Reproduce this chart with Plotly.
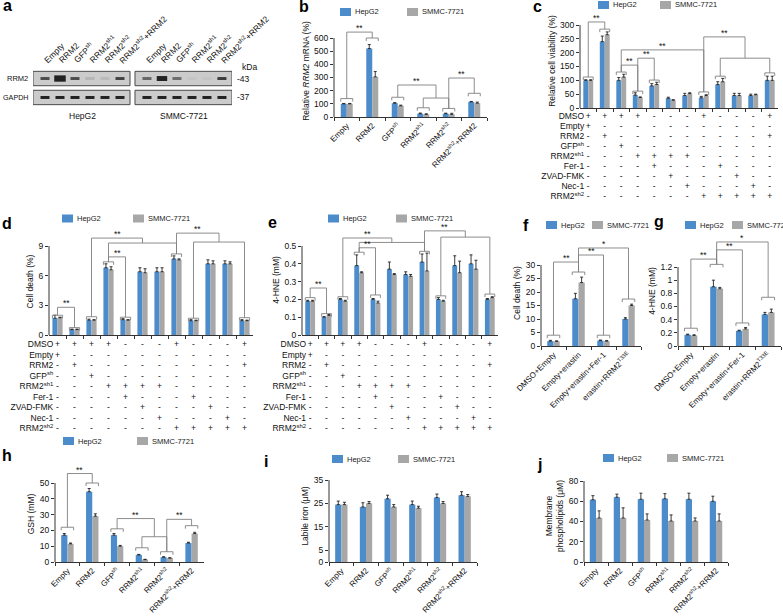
import plotly.graph_objects as go

W, H = 783, 616
FONT = 'Liberation Sans, Arial, sans-serif'
BLUE = '#4D8CCB'
GREY = '#A7A7A7'
LINEC = '#333333'
BRC = '#808080'

# ---------------- DATA ----------------
series_names = ['HepG2', 'SMMC-7721']

# (a) western blot
lane_labels = ['Empty', 'RRM2', 'GFP<sup>sh</sup>', 'RRM2<sup>sh1</sup>', 'RRM2<sup>sh2</sup>',
               'RRM2<sup>sh2</sup>+RRM2']
rrm2_band_hep = [0.75, 2.4, 0.75, 0.12, 0.10, 0.8]
rrm2_band_smmc = [0.6, 1.8, 0.55, 0.04, 0.04, 0.85]
gapdh_band_hep = [1.0, 1.0, 1.0, 1.0, 1.0, 1.0]
gapdh_band_smmc = [1.0, 1.0, 1.0, 1.0, 1.0, 1.0]

groups6 = ['Empty', 'RRM2', 'GFP<sup>sh</sup>', 'RRM2<sup>sh1</sup>', 'RRM2<sup>sh2</sup>',
           'RRM2<sup>sh2</sup>+RRM2']

# (b) relative RRM2 mRNA
b_hep = [100, 520, 105, 25, 25, 115]
b_hep_err = [3, 30, 4, 5, 4, 3]
b_smmc = [100, 305, 85, 20, 20, 105]
b_smmc_err = [3, 40, 5, 4, 8, 8]

# treatment table for c, d, e
treat_rows = ['DMSO', 'Empty', 'RRM2', 'GFP<sup>sh</sup>', 'RRM2<sup>sh1</sup>', 'Fer-1',
              'ZVAD-FMK', 'Nec-1', 'RRM2<sup>sh2</sup>']
treat_table = ['++++---+---+',
               '+-----------',
               '-+---------+',
               '--+---------',
               '---++++-----',
               '----+---+---',
               '-----+---+--',
               '------+---+-',
               '-------+++++']

# (c) relative cell viability
c_hep = [100, 240, 100, 47, 80, 35, 45, 37, 85, 45, 45, 100]
c_hep_err = [2, 20, 10, 8, 8, 4, 8, 5, 10, 8, 5, 15]
c_smmc = [100, 265, 112, 38, 85, 28, 52, 45, 95, 45, 48, 100]
c_smmc_err = [2, 10, 10, 2, 8, 2, 3, 3, 12, 8, 2, 15]

# (d) cell death
d_hep = [1.7, 0.55, 1.5, 6.8, 1.55, 6.4, 6.4, 7.7, 1.45, 7.2, 7.2, 1.45]
d_hep_err = [0.3, 0.05, 0.1, 0.4, 0.1, 0.4, 0.4, 0.3, 0.1, 0.4, 0.3, 0.1]
d_smmc = [1.75, 0.55, 1.5, 6.6, 1.5, 6.3, 6.4, 7.6, 1.45, 7.2, 7.2, 1.45]
d_smmc_err = [0.05, 0.05, 0.05, 0.3, 0.05, 0.4, 0.4, 0.1, 0.05, 0.3, 0.2, 0.05]

# (e) 4-HNE
e_hep = [0.19, 0.10, 0.20, 0.39, 0.20, 0.37, 0.34, 0.41, 0.20, 0.39, 0.40, 0.20]
e_hep_err = [0.005, 0.003, 0.005, 0.06, 0.005, 0.04, 0.015, 0.045, 0.01, 0.055, 0.05, 0.005]
e_smmc = [0.19, 0.11, 0.19, 0.35, 0.18, 0.34, 0.33, 0.36, 0.19, 0.35, 0.37, 0.21]
e_smmc_err = [0.005, 0.005, 0.005, 0.005, 0.01, 0.005, 0.01, 0.1, 0.005, 0.065, 0.05, 0.005]

# (f), (g)
groups4 = ['DMSO+Empty', 'Empty+erastin', 'Empty+erastin+Fer-1', 'erastin+RRM2<sup>T33E</sup>']
f_hep = [1.8, 17.5, 2.0, 10.0]
f_hep_err = [0.3, 2.0, 0.2, 0.5]
f_smmc = [1.7, 23.5, 1.8, 15.0]
f_smmc_err = [0.2, 2.0, 0.2, 0.5]
g_hep = [0.17, 0.90, 0.23, 0.48]
g_hep_err = [0.01, 0.10, 0.01, 0.03]
g_smmc = [0.16, 0.87, 0.26, 0.51]
g_smmc_err = [0.01, 0.02, 0.02, 0.05]

# (h) GSH
h_hep = [17, 44.5, 17, 4.5, 3, 12]
h_hep_err = [1, 2, 1, 0.3, 0.3, 0.5]
h_smmc = [11.5, 29, 10, 1.5, 2.5, 18]
h_smmc_err = [0.5, 1.5, 0.5, 0.2, 0.2, 0.8]

# (i) labile iron
i_hep = [24.5, 23.5, 27, 24.5, 27.5, 28.5]
i_hep_err = [1.5, 1.8, 1.5, 1.5, 1.5, 1.5]
i_smmc = [24.5, 25, 23.5, 23, 25, 28]
i_smmc_err = [1, 0.8, 1, 0.8, 0.8, 0.8]

# (j) membrane phospholipids
j_hep = [61.5, 64, 62, 62.5, 62, 60]
j_hep_err = [4, 3, 6, 5, 6, 5]
j_smmc = [43.5, 43.5, 41.5, 40.5, 40.5, 40.5]
j_smmc_err = [7, 10, 6, 6, 3, 7]

# ---------------- FIGURE ----------------
fig = go.Figure()
layout = dict(width=W, height=H, margin=dict(l=0, r=0, t=0, b=0, pad=0, autoexpand=False),
              paper_bgcolor='white', plot_bgcolor='rgba(0,0,0,0)',
              font=dict(family=FONT, size=8.5, color='#111111'),
              barmode='overlay', showlegend=False, hovermode=False)
shapes = []
annotations = []

# ---- panel a: blot ----
hep_x = list(range(6))
smmc_x = [6.8 + i for i in range(6)]
layout['xaxis'] = dict(domain=[33 / W, 232 / W], range=[-0.8, 12.47], visible=False,
                       fixedrange=True, anchor='y')
layout['yaxis'] = dict(domain=[1 - 106 / H, 1 - 70 / H], range=[-0.45, 1.45], visible=False,
                       fixedrange=True, anchor='x')
for xs in (hep_x, smmc_x):
    for r in (0, 1):
        shapes.append(dict(type='rect', xref='x', yref='y', x0=xs[0] - 0.8, x1=xs[-1] + 0.67,
                           y0=r - 0.38, y1=r + 0.38, fillcolor='#CBCBCB',
                           line=dict(color='#4A4A4A', width=1), layer='below'))
for xs, bands_r, bands_g in ((hep_x, rrm2_band_hep, gapdh_band_hep),
                             (smmc_x, rrm2_band_smmc, gapdh_band_smmc)):
    for row, bands in ((1, bands_r), (0, bands_g)):
        for p, inten in zip(xs, bands):
            half = 0.3 + 0.06 * (max(1, inten) - 1)
            fig.add_trace(go.Scatter(
                x=[p - half, p + half], y=[row, row], mode='lines', xaxis='x', yaxis='y',
                line=dict(color='rgba(20,20,20,%.3f)' % (0.92 * min(1, inten)),
                          width=3.0 * max(1, inten) ** 0.85),
                showlegend=False, hoverinfo='skip'))
    for p, lab in zip(xs, lane_labels):
        annotations.append(dict(text=lab, x=p - 0.4, y=1.45, xref='x', yref='y', xanchor='left',
                                yanchor='bottom', textangle=-45, yshift=2, showarrow=False,
                                font=dict(size=8.5)))
annotations += [
    dict(text='RRM2', x=-0.8, y=1, xref='x', yref='y', xanchor='right', xshift=-3, showarrow=False,
         font=dict(size=7.5)),
    dict(text='GAPDH', x=-0.8, y=0, xref='x', yref='y', xanchor='right', xshift=-2, showarrow=False,
         font=dict(size=7.2)),
    dict(text='kDa', x=12.47, y=1.45, xref='x', yref='y', xanchor='left', yanchor='middle',
         xshift=8, yshift=3, showarrow=False, font=dict(size=8.5)),
    dict(text='-43', x=12.47, y=1, xref='x', yref='y', xanchor='left', xshift=3, showarrow=False,
         font=dict(size=8.5)),
    dict(text='-37', x=12.47, y=0, xref='x', yref='y', xanchor='left', xshift=3, showarrow=False,
         font=dict(size=8.5)),
    dict(text='HepG2', x=sum(hep_x) / 6, y=-0.45, xref='x', yref='y', yanchor='top', yshift=-3,
         showarrow=False, font=dict(size=8.5)),
    dict(text='SMMC-7721', x=sum(smmc_x) / 6, y=-0.45, xref='x', yref='y', yanchor='top',
         yshift=-3, showarrow=False, font=dict(size=8.5)),
]


def legend_row(bl, cy, spacing):
    """Series key: coloured box + name for each series (paper coordinates)."""
    for j, (name, col) in enumerate(zip(series_names, (BLUE, GREY))):
        x0 = bl + j * spacing
        shapes.append(dict(type='rect', xref='paper', yref='paper', x0=x0 / W, x1=(x0 + 11) / W,
                           y0=1 - (cy + 4) / H, y1=1 - (cy - 4) / H, fillcolor=col,
                           line=dict(width=0)))
        annotations.append(dict(text=name, x=(x0 + 13) / W, y=1 - cy / H, xref='paper',
                                yref='paper', xanchor='left', yanchor='middle', showarrow=False,
                                font=dict(size=7.5, color='#222222')))


# ---- generic bar panel ----
def bar_panel(k, cats, hep, hep_err, smmc, smmc_err, xpx, zero_px, tick_px, tickvals, ticktext,
              top_px, title, bw, leg, categorical=True):
    xr, yr = 'x%d' % k, 'y%d' % k
    tickmax = tickvals[-1]
    ppu = (zero_px - tick_px) / tickmax
    ymax = (zero_px - top_px) / ppu
    n = len(cats)
    xs = cats if categorical else list(range(n))
    for name, vals, errs, col, off in ((series_names[0], hep, hep_err, BLUE, -bw),
                                       (series_names[1], smmc, smmc_err, GREY, 0)):
        fig.add_trace(go.Bar(
            x=xs, y=vals, name=name, width=bw, offset=off, xaxis=xr, yaxis=yr,
            marker=dict(color=col, line=dict(width=0)),
            error_y=dict(type='data', array=errs, arrayminus=[0] * n, symmetric=False,
                         color='#222222', thickness=0.9, width=1.5),
            hoverinfo='skip', showlegend=False))
    xa = dict(domain=[xpx[0] / W, xpx[1] / W], range=[-0.5, n - 0.5], anchor=yr, showline=True,
              linecolor=LINEC, linewidth=1, ticks='outside', ticklen=3, tickcolor=LINEC,
              showgrid=False, zeroline=False, fixedrange=True, automargin=False)
    if categorical:
        xa.update(type='category', tickson='boundaries', tickangle=-45,
                  tickfont=dict(size=8))
    else:
        xa.update(tickvals=[i + 0.5 for i in range(n - 1)], showticklabels=False)
    layout['xaxis%d' % k] = xa
    layout['yaxis%d' % k] = dict(domain=[1 - zero_px / H, 1 - top_px / H], range=[0, ymax],
                                 anchor=xr, tickvals=tickvals, ticktext=ticktext,
                                 ticks='outside', ticklen=3, tickcolor=LINEC, showline=False,
                                 showgrid=False, zeroline=False, fixedrange=True,
                                 automargin=False, tickfont=dict(size=8.5),
                                 title=dict(text=title, font=dict(size=8.5), standoff=3))
    shapes.append(dict(type='line', xref='%s domain' % xr, yref=yr, x0=0, x1=0, y0=0, y1=tickmax,
                       line=dict(color=LINEC, width=1)))
    legend_row(*leg)
    return Brk(xr, yr, ppu, bw)


class Brk:
    def __init__(self, xr, yr, ppu, bw):
        self.xr, self.yr, self.ppu, self.bw = xr, yr, ppu, bw

    def seg(self, x0, y0, x1, y1):
        shapes.append(dict(type='line', xref=self.xr, yref=self.yr, x0=x0, y0=y0, x1=x1, y1=y1,
                           line=dict(color=BRC, width=0.9)))

    def pair(self, i, h):
        leg = 3.0 / self.ppu
        l, r = i - self.bw, i + self.bw
        self.seg(l, h - leg, l, h)
        self.seg(l, h, r, h)
        self.seg(r, h, r, h - leg)
        return (i, h)

    def merge(self, a, b, m):
        self.seg(a[0], a[1], a[0], m)
        self.seg(b[0], b[1], b[0], m)
        self.seg(a[0], m, b[0], m)
        return ((a[0] + b[0]) / 2, m)

    def join(self, a, b, t, label):
        self.merge(a, b, t)
        annotations.append(dict(text=label, x=(a[0] + b[0]) / 2, y=t, xref=self.xr, yref=self.yr,
                                yanchor='middle', yshift=4, showarrow=False,
                                font=dict(size=8.5)))


def table(k, tk, row0_px, step):
    xs, ys, txt, pos = [], [], [], []
    for r, (lab, row) in enumerate(zip(treat_rows, treat_table)):
        xs.append(-0.25); ys.append(r); txt.append(lab); pos.append('middle left')
        for c, ch in enumerate(row):
            xs.append(c); ys.append(r); txt.append(ch); pos.append('middle center')
    fig.add_trace(go.Scatter(x=xs, y=ys, text=txt, mode='text', textposition=pos,
                             textfont=dict(size=8.5, color='#111111'), xaxis='x%d' % k,
                             yaxis='y%d' % tk, showlegend=False, cliponaxis=False,
                             hoverinfo='skip'))
    nr = len(treat_rows)
    layout['yaxis%d' % tk] = dict(domain=[1 - (row0_px + (nr - 0.5) * step) / H,
                                          1 - (row0_px - 0.5 * step) / H],
                                  range=[nr - 0.5, -0.5], visible=False, anchor='x%d' % k,
                                  fixedrange=True)


# ---- b ----
B = bar_panel(2, groups6, b_hep, b_hep_err, b_smmc, b_smmc_err, (334, 487), 117, 38,
              [0, 100, 200, 300, 400, 500, 600], None, 25,
              'Relative <i>RRM2</i> mRNA (%)', 0.235, (340, 12, 67))
p0 = B.pair(0, 140); p1 = B.pair(1, 600); B.join(p0, p1, 645, '**')
p2 = B.pair(2, 150); p3 = B.pair(3, 70); p4 = B.pair(4, 65)
m34 = B.merge(p3, p4, 144); B.join(p2, m34, 243, '**')
p5 = B.pair(5, 180); B.join(p4, p5, 296, '**')

# ---- c ----
B = bar_panel(3, list(range(12)), c_hep, c_hep_err, c_smmc, c_smmc_err, (580, 778), 108, 25,
              [0, 50, 100, 150, 200, 250, 300], None, 14,
              'Relative cell viability (%)', 0.3, (598, 5, 62), categorical=False)
p0 = B.pair(0, 112); p1 = B.pair(1, 285); B.join(p0, p1, 311, '**')
p2 = B.pair(2, 130); p3 = B.pair(3, 61); B.join(p2, p3, 155, '**')
p4 = B.pair(4, 101); B.join(p3, p4, 180, '**')
p7 = B.pair(7, 58); B.join(p2, p7, 210, '**')
p8 = B.pair(8, 115); p11 = B.pair(11, 127); m = B.merge(p8, p11, 180); B.join(p7, m, 257, '**')
table(3, 11, 117, 10)

# ---- d ----
B = bar_panel(4, list(range(12)), d_hep, d_hep_err, d_smmc, d_smmc_err, (49, 253), 335, 246,
              [0, 3, 6, 9], None, 228, 'Cell death (%)', 0.3, (62, 218.5, 71),
              categorical=False)
p0 = B.pair(0, 2.0); p1 = B.pair(1, 0.75); B.join(p0, p1, 2.8, '**')
p2 = B.pair(2, 1.85); p3 = B.pair(3, 7.4); p7 = B.pair(7, 8.2)
m = B.merge(p3, p7, 9.3); B.join(p2, m, 9.8, '**')
p4 = B.pair(4, 1.8); B.join(p3, p4, 7.9, '**')
p8 = B.pair(8, 1.7); p11 = B.pair(11, 1.75); m = B.merge(p8, p11, 9.4); B.join(p7, m, 10.3, '**')
table(4, 12, 345, 10.5)

# ---- e ----
B = bar_panel(5, list(range(12)), e_hep, e_hep_err, e_smmc, e_smmc_err, (302, 498), 335, 246,
              [0, 0.1, 0.2, 0.3, 0.4, 0.5], ['0', '0.1', '0.2', '0.3', '0.4', '0.5'], 225,
              '4-HNE (mM)', 0.3, (328, 218.5, 68), categorical=False)
p0 = B.pair(0, 0.21); p1 = B.pair(1, 0.12); B.join(p0, p1, 0.264, '**')
p2 = B.pair(2, 0.215); p3 = B.pair(3, 0.465); p7 = B.pair(7, 0.47)
m = B.merge(p3, p7, 0.52); B.join(p2, m, 0.545, '**')
p4 = B.pair(4, 0.225); B.join(p3, p4, 0.49, '**')
p8 = B.pair(8, 0.22); p11 = B.pair(11, 0.23); m = B.merge(p8, p11, 0.55)
B.join(p7, m, 0.585, '**')
table(5, 13, 345, 10.5)

# ---- f ----
B = bar_panel(6, groups4, f_hep, f_hep_err, f_smmc, f_smmc_err, (541, 641), 346, 265,
              [0, 5, 10, 15, 20, 25, 30], None, 240, 'Cell death (%)', 0.25, (546, 225, 46))
p0 = B.pair(0, 4); p1 = B.pair(1, 27.4); B.join(p0, p1, 31.1, '**')
p2 = B.pair(2, 4); B.join(p1, p2, 33.7, '**')
p3 = B.pair(3, 17.4); B.join(p1, p3, 36.3, '*')

# ---- g ----
B = bar_panel(7, groups4, g_hep, g_hep_err, g_smmc, g_smmc_err, (678, 781), 346, 267,
              [0, 0.2, 0.4, 0.6, 0.8, 1.0, 1.2], ['0', '0.2', '0.4', '0.6', '0.8', '1', '1.2'],
              236, '4-HNE (mM)', 0.25, (685, 225, 47))
p0 = B.pair(0, 0.27); p1 = B.pair(1, 1.24); B.join(p0, p1, 1.32, '**')
p2 = B.pair(2, 0.35); B.join(p1, p2, 1.46, '**')
p3 = B.pair(3, 0.74); B.join(p1, p3, 1.58, '*')

# ---- h ----
B = bar_panel(8, groups6, h_hep, h_hep_err, h_smmc, h_smmc_err, (55, 204), 562, 483,
              [0, 10, 20, 30, 40, 50], None, 466, 'GSH (mM)', 0.25, (63, 441, 74))
p0 = B.pair(0, 22); p1 = B.pair(1, 50); B.join(p0, p1, 56, '**')
p2 = B.pair(2, 21); p3 = B.pair(3, 9); p4 = B.pair(4, 6.5)
m = B.merge(p3, p4, 16); B.join(p2, m, 27.5, '**')
p5 = B.pair(5, 23); B.join(p4, p5, 27, '**')

# ---- i ----
bar_panel(9, groups6, i_hep, i_hep_err, i_smmc, i_smmc_err, (329, 477), 562, 480,
          [0, 5, 15, 25, 35], None, 470, 'Labile iron (μM)', 0.25, (332, 459, 66))

# ---- j ----
bar_panel(10, groups6, j_hep, j_hep_err, j_smmc, j_smmc_err, (584, 728), 562, 481,
          [0, 20, 40, 60, 80], None, 470, 'Membrane<br>phospholipids (μM)', 0.26,
          (603, 458, 64))

# ---- panel letters ----
for letter, lx, ly in (('a', 1, 6), ('b', 297, 7), ('c', 531, 7), ('d', 0, 223), ('e', 266, 222),
                       ('f', 521, 226), ('g', 652, 221), ('h', 0, 455), ('i', 262, 461),
                       ('j', 535, 464)):
    annotations.append(dict(text='<b>%s</b>' % letter, x=lx / W, y=1 - ly / H, xref='paper',
                            yref='paper', xanchor='left', yanchor='middle', showarrow=False,
                            font=dict(size=16, color='#000000')))

layout['shapes'] = shapes
layout['annotations'] = annotations
fig.update_layout(**layout)
fig.write_html('out.html', config={'displayModeBar': False, 'staticPlot': True},
               post_script="document.body.style.margin='0px';document.body.style.overflow='hidden';")
